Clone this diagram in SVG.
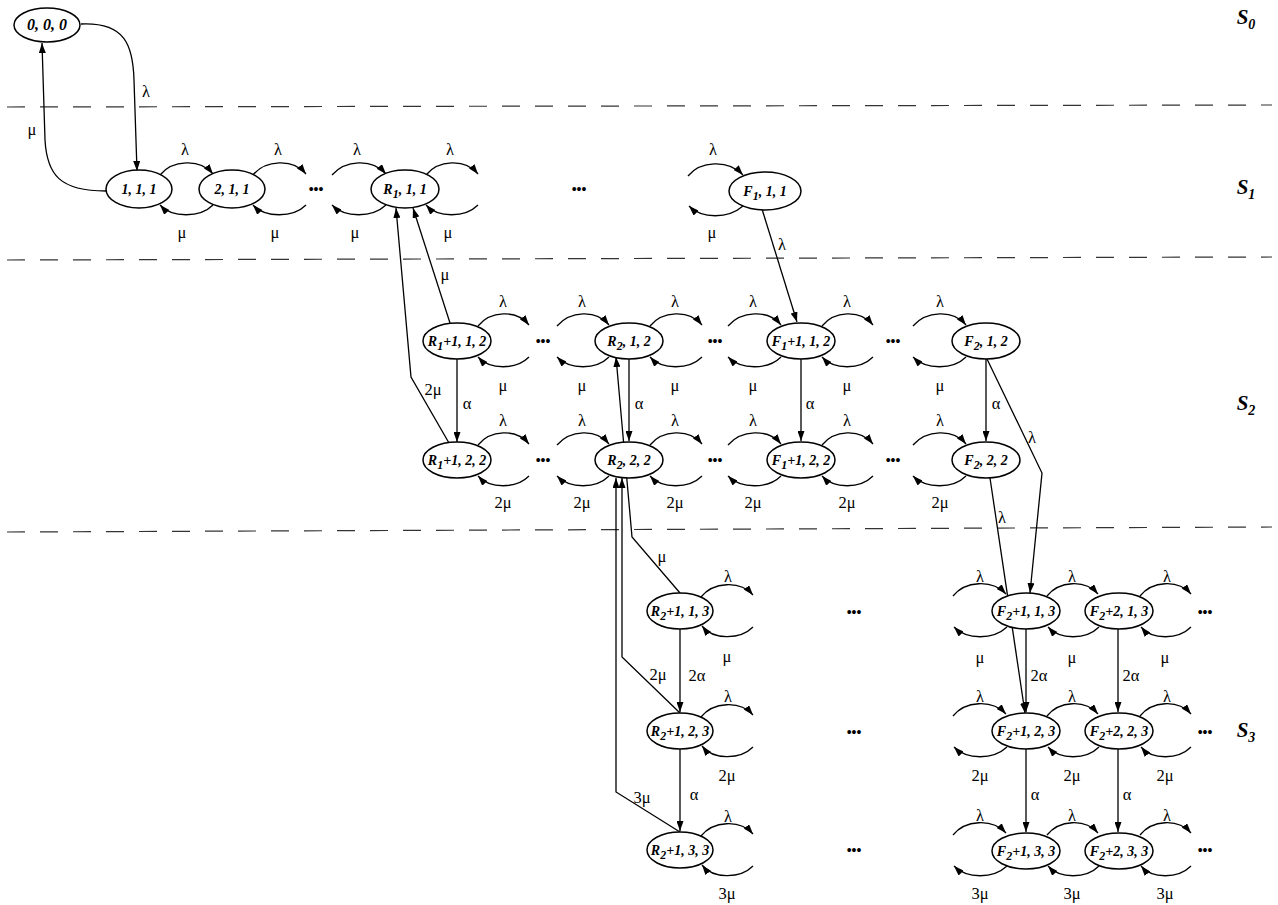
<svg xmlns="http://www.w3.org/2000/svg" width="1278" height="905" viewBox="0 0 1278 905">
<style>
.n ellipse{fill:#fff;stroke:#000;stroke-width:1.5}
.t{font-family:"Liberation Serif",serif;font-weight:bold;font-style:italic;font-size:14px;text-anchor:middle}
.s{font-size:12px}
.lb{font-family:"Liberation Serif",serif;font-size:16.5px;text-anchor:middle}
.c path{fill:none;stroke:#000;stroke-width:1.3;marker-end:url(#ah)}
.d{fill:none;stroke:#333;stroke-width:1.2;stroke-dasharray:18 15}
.dots{font-family:"Liberation Sans",sans-serif;font-size:14px;text-anchor:middle}
.sec{font-family:"Liberation Serif",serif;font-weight:bold;font-style:italic;font-size:21px;text-anchor:middle}
.ss{font-size:14px}
</style>
<defs>
<marker id="ah" markerUnits="userSpaceOnUse" markerWidth="10" markerHeight="7" refX="10" refY="3.5" orient="auto">
<path d="M0,0 L10,3.5 L0,7 z" fill="#000"/>
</marker>
</defs>
<rect width="1278" height="905" fill="#fff"/>
<g id="separators">
<path class="d" d="M7,107 L1272,105"/>
<path class="d" d="M7,260 L1272,257"/>
<path class="d" d="M7,532 L1272,527"/>
</g>
<g id="sections">
<text class="sec" x="1246" y="24">S<tspan class="ss" dy="5">0</tspan></text>
<text class="sec" x="1246" y="194">S<tspan class="ss" dy="5">1</tspan></text>
<text class="sec" x="1246" y="410">S<tspan class="ss" dy="5">2</tspan></text>
<text class="sec" x="1246" y="737">S<tspan class="ss" dy="5">3</tspan></text>
</g>
<g id="connectors" class="c">
<path d="M81,24 C125,22 133,45 134,80 L137,171"/>
<path d="M106,191 C60,191 47,175 45,140 L42,43"/>
<path d="M160,175 C172,160 200,158 213,174"/>
<path d="M213,205 C200,218 172,218 160,205"/>
<path d="M253,175 C265,160 293,158 306,174"/>
<path d="M306,205 C293,218 265,218 253,205"/>
<path d="M332,175 C345,160 372,158 386,174"/>
<path d="M386,205 C372,218 345,218 332,205"/>
<path d="M426,175 C438,160 465,158 478,174"/>
<path d="M478,205 C465,218 438,218 426,205"/>
<path d="M688,176 C700,161 728,159 743,175"/>
<path d="M743,206 C728,219 702,219 689,206"/>
<path d="M450,323 L413,208"/>
<path d="M449,443 L411,377 L396,208"/>
<path d="M762,209 L797,322"/>
<path d="M478,326 C490,311 516,309 529,325"/>
<path d="M529,357 C516,370 490,370 478,357"/>
<path d="M557,326 C570,311 596,309 609,325"/>
<path d="M609,357 C596,370 570,370 557,357"/>
<path d="M650,326 C662,311 689,309 702,325"/>
<path d="M702,357 C689,370 662,370 650,357"/>
<path d="M728,326 C741,311 768,309 781,325"/>
<path d="M781,357 C768,370 741,370 728,357"/>
<path d="M822,326 C834,311 860,309 873,325"/>
<path d="M873,357 C860,370 834,370 822,357"/>
<path d="M913,326 C926,311 953,309 966,325"/>
<path d="M966,357 C953,370 926,370 913,357"/>
<path d="M478,445 C490,430 516,428 529,444"/>
<path d="M529,476 C516,489 490,489 478,476"/>
<path d="M557,445 C570,430 596,428 609,444"/>
<path d="M609,476 C596,489 570,489 557,476"/>
<path d="M650,445 C662,430 689,428 702,444"/>
<path d="M702,476 C689,489 662,489 650,476"/>
<path d="M728,445 C741,430 768,428 781,444"/>
<path d="M781,476 C768,489 741,489 728,476"/>
<path d="M822,445 C834,430 860,428 873,444"/>
<path d="M873,476 C860,489 834,489 822,476"/>
<path d="M913,445 C926,430 953,428 966,444"/>
<path d="M966,476 C953,489 926,489 913,476"/>
<path d="M457,359 L457,442"/>
<path d="M629,359 L629,441"/>
<path d="M801,359 L801,441"/>
<path d="M986,359 L986,441"/>
<path d="M680,593 L632,537 L616,357"/>
<path d="M680,713 L622,657 L622,478"/>
<path d="M680,832 L616,792 L616,478"/>
<path d="M987,359 L1042,473 L1030,593"/>
<path d="M990,478 L1025,713"/>
<path d="M701,597 C713,582 740,580 753,595"/>
<path d="M753,627 C740,640 713,640 702,626"/>
<path d="M701,717 C713,702 740,700 753,715"/>
<path d="M753,747 C740,760 713,760 702,746"/>
<path d="M701,836 C713,821 740,819 753,834"/>
<path d="M753,866 C740,879 713,879 702,865"/>
<path d="M680,629 L680,712"/>
<path d="M680,749 L680,831"/>
<path d="M953,596 C965,581 992,579 1006,594"/>
<path d="M1007,627 C993,640 967,640 954,627"/>
<path d="M1047,596 C1059,581 1085,579 1098,594"/>
<path d="M1099,627 C1086,640 1060,640 1048,627"/>
<path d="M1140,596 C1152,581 1178,579 1191,594"/>
<path d="M1191,627 C1178,640 1152,640 1141,627"/>
<path d="M953,716 C965,701 992,699 1006,714"/>
<path d="M1007,747 C993,760 967,760 954,747"/>
<path d="M1047,716 C1059,701 1085,699 1098,714"/>
<path d="M1099,747 C1086,760 1060,760 1048,747"/>
<path d="M1140,716 C1152,701 1178,699 1191,714"/>
<path d="M1191,747 C1178,760 1152,760 1141,747"/>
<path d="M953,835 C965,820 992,818 1006,833"/>
<path d="M1007,866 C993,879 967,879 954,866"/>
<path d="M1047,835 C1059,820 1085,818 1098,833"/>
<path d="M1099,866 C1086,879 1060,879 1048,866"/>
<path d="M1140,835 C1152,820 1178,818 1191,833"/>
<path d="M1191,866 C1178,879 1152,879 1141,866"/>
<path d="M1026,629 L1026,712"/>
<path d="M1026,749 L1026,832"/>
<path d="M1118,629 L1118,712"/>
<path d="M1118,749 L1118,832"/>
</g>
<g id="labels" class="lb">
<text x="146" y="97">λ</text>
<text x="32" y="135">μ</text>
<text x="185" y="155">λ</text><text x="278" y="155">λ</text><text x="357" y="155">λ</text><text x="450" y="155">λ</text><text x="713" y="155">λ</text>
<text x="182" y="238">μ</text><text x="275" y="238">μ</text><text x="355" y="238">μ</text><text x="448" y="238">μ</text><text x="712" y="238">μ</text>
<text x="445" y="280">μ</text>
<text x="433" y="395">2μ</text>
<text x="782" y="250">λ</text>
<text x="503" y="307">λ</text><text x="582" y="307">λ</text><text x="675" y="307">λ</text><text x="753" y="307">λ</text><text x="847" y="307">λ</text><text x="940" y="307">λ</text>
<text x="503" y="391">μ</text><text x="582" y="391">μ</text><text x="675" y="391">μ</text><text x="753" y="391">μ</text><text x="847" y="391">μ</text><text x="940" y="391">μ</text>
<text x="467" y="409">α</text><text x="639" y="409">α</text><text x="810" y="409">α</text><text x="996" y="409">α</text>
<text x="503" y="426">λ</text><text x="582" y="426">λ</text><text x="675" y="426">λ</text><text x="753" y="426">λ</text><text x="847" y="426">λ</text><text x="940" y="426">λ</text>
<text x="503" y="508">2μ</text><text x="582" y="508">2μ</text><text x="675" y="508">2μ</text><text x="753" y="508">2μ</text><text x="847" y="508">2μ</text><text x="940" y="508">2μ</text>
<text x="662" y="562">μ</text>
<text x="658" y="680">2μ</text>
<text x="642" y="803">3μ</text>
<text x="1032" y="443">λ</text>
<text x="1002" y="523">λ</text>
<text x="728" y="582">λ</text><text x="728" y="702">λ</text><text x="728" y="822">λ</text>
<text x="727" y="662">μ</text><text x="727" y="781">2μ</text><text x="727" y="899">3μ</text>
<text x="697" y="681">2α</text><text x="694" y="800">α</text>
<text x="980" y="582">λ</text><text x="1072" y="582">λ</text><text x="1167" y="582">λ</text>
<text x="980" y="702">λ</text><text x="1072" y="702">λ</text><text x="1167" y="702">λ</text>
<text x="980" y="821">λ</text><text x="1072" y="821">λ</text><text x="1167" y="821">λ</text>
<text x="980" y="663">μ</text><text x="1072" y="663">μ</text><text x="1165" y="663">μ</text>
<text x="980" y="781">2μ</text><text x="1072" y="781">2μ</text><text x="1165" y="781">2μ</text>
<text x="980" y="899">3μ</text><text x="1072" y="899">3μ</text><text x="1165" y="899">3μ</text>
<text x="1039" y="681">2α</text><text x="1131" y="681">2α</text>
<text x="1035" y="800">α</text><text x="1127" y="800">α</text>
</g>
<g id="ellipsis" class="dots">
<text x="316" y="194">•••</text><text x="579" y="194">•••</text>
<text x="543" y="346">•••</text><text x="715" y="346">•••</text><text x="893" y="346">•••</text>
<text x="543" y="465">•••</text><text x="715" y="465">•••</text><text x="893" y="465">•••</text>
<text x="854" y="617">•••</text><text x="854" y="737">•••</text><text x="854" y="855">•••</text>
<text x="1205" y="617">•••</text><text x="1205" y="737">•••</text><text x="1205" y="855">•••</text>
</g>
<g id="n000" class="n"><ellipse cx="47" cy="25" rx="33" ry="17"/><text class="t" x="47" y="30" style="font-size:16px">0, 0, 0</text></g>
<g id="n111" class="n"><ellipse cx="139" cy="189" rx="33" ry="19"/><text class="t" x="139" y="194">1, 1, 1</text></g>
<g id="n211" class="n"><ellipse cx="232" cy="189" rx="33" ry="19"/><text class="t" x="232" y="194">2, 1, 1</text></g>
<g id="nR1_1_1" class="n"><ellipse cx="405" cy="189" rx="34" ry="19"/><text class="t" x="405" y="194">R<tspan class="s" dy="4">1</tspan><tspan dy="-4">, 1, 1</tspan></text></g>
<g id="nF1_1_1" class="n"><ellipse cx="765" cy="191" rx="36" ry="19"/><text class="t" x="765" y="196">F<tspan class="s" dy="4">1</tspan><tspan dy="-4">, 1, 1</tspan></text></g>
<g id="nR1p1_1_2" class="n"><ellipse cx="457" cy="341" rx="34" ry="18"/><text class="t" x="457" y="346">R<tspan class="s" dy="4">1</tspan><tspan dy="-4">+1, 1, 2</tspan></text></g>
<g id="nR2_1_2" class="n"><ellipse cx="629" cy="341" rx="34" ry="18"/><text class="t" x="629" y="346">R<tspan class="s" dy="4">2</tspan><tspan dy="-4">, 1, 2</tspan></text></g>
<g id="nF1p1_1_2" class="n"><ellipse cx="801" cy="341" rx="34" ry="18"/><text class="t" x="801" y="346">F<tspan class="s" dy="4">1</tspan><tspan dy="-4">+1, 1, 2</tspan></text></g>
<g id="nF2_1_2" class="n"><ellipse cx="986" cy="341" rx="34" ry="18"/><text class="t" x="986" y="346">F<tspan class="s" dy="4">2</tspan><tspan dy="-4">, 1, 2</tspan></text></g>
<g id="nR1p1_2_2" class="n"><ellipse cx="457" cy="460" rx="34" ry="18"/><text class="t" x="457" y="465">R<tspan class="s" dy="4">1</tspan><tspan dy="-4">+1, 2, 2</tspan></text></g>
<g id="nR2_2_2" class="n"><ellipse cx="629" cy="460" rx="34" ry="18"/><text class="t" x="629" y="465">R<tspan class="s" dy="4">2</tspan><tspan dy="-4">, 2, 2</tspan></text></g>
<g id="nF1p1_2_2" class="n"><ellipse cx="801" cy="460" rx="34" ry="18"/><text class="t" x="801" y="465">F<tspan class="s" dy="4">1</tspan><tspan dy="-4">+1, 2, 2</tspan></text></g>
<g id="nF2_2_2" class="n"><ellipse cx="986" cy="460" rx="34" ry="18"/><text class="t" x="986" y="465">F<tspan class="s" dy="4">2</tspan><tspan dy="-4">, 2, 2</tspan></text></g>
<g id="nR2p1_1_3" class="n"><ellipse cx="680" cy="611" rx="33" ry="18"/><text class="t" x="680" y="616">R<tspan class="s" dy="4">2</tspan><tspan dy="-4">+1, 1, 3</tspan></text></g>
<g id="nR2p1_2_3" class="n"><ellipse cx="680" cy="731" rx="33" ry="18"/><text class="t" x="680" y="736">R<tspan class="s" dy="4">2</tspan><tspan dy="-4">+1, 2, 3</tspan></text></g>
<g id="nR2p1_3_3" class="n"><ellipse cx="680" cy="850" rx="33" ry="18"/><text class="t" x="680" y="855">R<tspan class="s" dy="4">2</tspan><tspan dy="-4">+1, 3, 3</tspan></text></g>
<g id="nF2p1_1_3" class="n"><ellipse cx="1026" cy="611" rx="34" ry="18"/><text class="t" x="1026" y="616">F<tspan class="s" dy="4">2</tspan><tspan dy="-4">+1, 1, 3</tspan></text></g>
<g id="nF2p2_1_3" class="n"><ellipse cx="1119" cy="611" rx="34" ry="18"/><text class="t" x="1119" y="616">F<tspan class="s" dy="4">2</tspan><tspan dy="-4">+2, 1, 3</tspan></text></g>
<g id="nF2p1_2_3" class="n"><ellipse cx="1026" cy="731" rx="34" ry="18"/><text class="t" x="1026" y="736">F<tspan class="s" dy="4">2</tspan><tspan dy="-4">+1, 2, 3</tspan></text></g>
<g id="nF2p2_2_3" class="n"><ellipse cx="1119" cy="731" rx="34" ry="18"/><text class="t" x="1119" y="736">F<tspan class="s" dy="4">2</tspan><tspan dy="-4">+2, 2, 3</tspan></text></g>
<g id="nF2p1_3_3" class="n"><ellipse cx="1026" cy="851" rx="34" ry="18"/><text class="t" x="1026" y="856">F<tspan class="s" dy="4">2</tspan><tspan dy="-4">+1, 3, 3</tspan></text></g>
<g id="nF2p2_3_3" class="n"><ellipse cx="1119" cy="851" rx="34" ry="18"/><text class="t" x="1119" y="856">F<tspan class="s" dy="4">2</tspan><tspan dy="-4">+2, 3, 3</tspan></text></g>
</svg>
